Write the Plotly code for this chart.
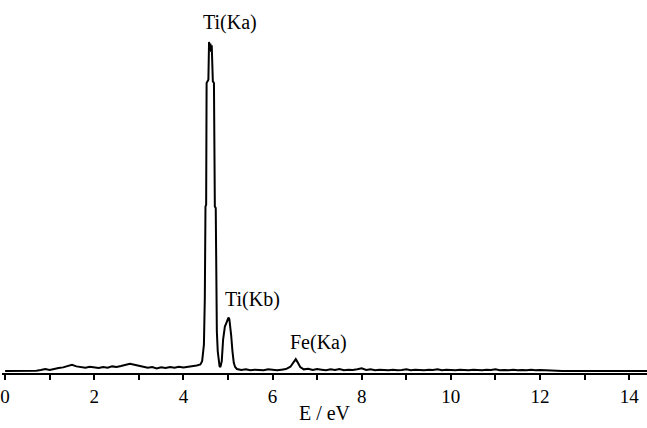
import plotly.graph_objects as go

# EDX spectrum (energy in eV as labelled, intensity in arbitrary units)
energy = [
    0.00, 0.50, 0.70, 0.80, 0.90, 1.00, 1.10, 1.20, 1.30, 1.40, 1.50, 1.60, 1.70, 1.80,
    1.90, 2.00, 2.10, 2.20, 2.30, 2.40, 2.50, 2.60, 2.70, 2.80, 2.90, 3.00, 3.10, 3.20,
    3.30, 3.40, 3.50, 3.60, 3.70, 3.80, 3.90, 4.00, 4.10, 4.20, 4.30, 4.38, 4.42, 4.46,
    4.48, 4.495, 4.51, 4.52, 4.535, 4.56, 4.575, 4.59, 4.605, 4.62, 4.635, 4.66, 4.685,
    4.705, 4.725, 4.735, 4.75, 4.77, 4.79, 4.81, 4.83, 4.86, 4.89, 4.93, 4.96, 4.99,
    5.01, 5.03, 5.05, 5.07, 5.10, 5.13, 5.16, 5.20, 5.30, 5.40, 5.50, 5.60, 5.70, 5.80,
    5.90, 6.00, 6.10, 6.20, 6.30, 6.40, 6.46, 6.52, 6.56, 6.62, 6.70, 6.80, 6.90, 7.00,
    7.10, 7.20, 7.30, 7.40, 7.50, 7.60, 7.70, 7.80, 7.90, 8.00, 8.10, 8.20, 8.30, 8.40,
    8.50, 8.60, 8.70, 8.80, 8.90, 9.00, 9.10, 9.20, 9.30, 9.40, 9.50, 9.60, 9.70, 9.80,
    9.90, 10.00, 10.10, 10.20, 10.30, 10.40, 10.50, 10.60, 10.70, 10.80, 10.90, 11.00,
    11.10, 11.20, 11.30, 11.40, 11.50, 11.60, 11.70, 11.80, 11.90, 12.00, 12.10, 12.20,
    12.30, 12.40, 12.50, 13.00, 14.40,
]
intensity = [
    0.0, 0.0, 0.1, 0.3, 0.6, 0.3, 0.7, 0.9, 1.1, 1.6, 1.9, 1.4, 1.2, 1.0,
    1.3, 1.1, 0.9, 1.2, 1.0, 1.4, 1.2, 1.5, 1.8, 2.2, 1.9, 1.5, 1.3, 1.0,
    1.2, 0.8, 1.1, 0.9, 1.2, 1.0, 1.3, 1.1, 1.3, 1.4, 1.7, 2.0, 3.0, 8.0,
    22.0, 50.0, 50.5, 87.5, 88.0, 88.5, 100.0, 98.0, 99.5, 97.0, 99.0, 88.0, 87.5,
    50.0, 49.5, 25.0, 12.0, 6.0, 3.0, 1.5, 1.2, 3.0, 9.5, 13.5, 14.5, 15.5,
    16.2, 15.8, 14.0, 11.0, 6.0, 2.5, 1.2, 0.6, 0.3, 0.5, 0.2, 0.4, 0.3, 0.2,
    0.5, 0.3, 0.2, 0.4, 0.6, 1.3, 2.6, 3.6, 2.7, 1.2, 0.5, 0.7, 0.3, 0.6,
    0.4, 0.2, 0.5, 0.3, 0.6, 0.2, 0.4, 0.3, 0.5, 0.8, 0.3, 0.5, 0.2, 0.4,
    0.3, 0.2, 0.4, 0.2, 0.3, 0.5, 0.2, 0.4, 0.3, 0.2, 0.4, 0.3, 0.5, 0.2,
    0.4, 0.3, 0.2, 0.4, 0.3, 0.2, 0.4, 0.3, 0.2, 0.4, 0.3, 0.5,
    0.2, 0.3, 0.2, 0.4, 0.2, 0.3, 0.2, 0.4, 0.2, 0.3, 0.2, 0.3,
    0.2, 0.1, 0.0, 0.0, 0.0,
]

peak_labels = ["Ti(Ka)", "Ti(Kb)", "Fe(Ka)"]
peak_label_x = [5.05, 5.55, 7.02]
peak_label_y = [106.0, 21.8, 8.6]

x_ticks = [0, 2, 4, 6, 8, 10, 12, 14]

FONT = "Liberation Serif"

fig = go.Figure()
fig.add_trace(go.Scatter(
    x=energy, y=intensity, mode="lines",
    line=dict(color="black", width=2),
    hoverinfo="skip", showlegend=False,
))

for txt, lx, ly in zip(peak_labels, peak_label_x, peak_label_y):
    fig.add_annotation(x=lx, y=ly, text=txt, showarrow=False,
                       font=dict(family=FONT, size=20, color="black"),
                       xanchor="center", yanchor="middle")

fig.update_layout(
    width=647, height=428,
    margin=dict(l=2, r=0, t=10, b=55),
    paper_bgcolor="white", plot_bgcolor="white",
    font=dict(family=FONT, color="black"),
    xaxis=dict(
        range=[-0.07, 14.40],
        tickvals=x_ticks,
        ticktext=[str(v) for v in x_ticks],
        ticks="outside", ticklen=5, tickwidth=1.5, tickcolor="black",
        minor=dict(dtick=1, tick0=0, ticks="outside", ticklen=5, tickwidth=1.5, tickcolor="black"),
        showline=True, linecolor="black", linewidth=2,
        showgrid=False, zeroline=False,
        tickfont=dict(family=FONT, size=19, color="black"),
        ticklabelstandoff=0,
        title=dict(text="E / eV", font=dict(family=FONT, size=20, color="black"), standoff=0),
    ),
    yaxis=dict(
        range=[-0.61, 109.7],
        visible=False, showgrid=False, zeroline=False,
    ),
)

fig.write_html("out.html")
